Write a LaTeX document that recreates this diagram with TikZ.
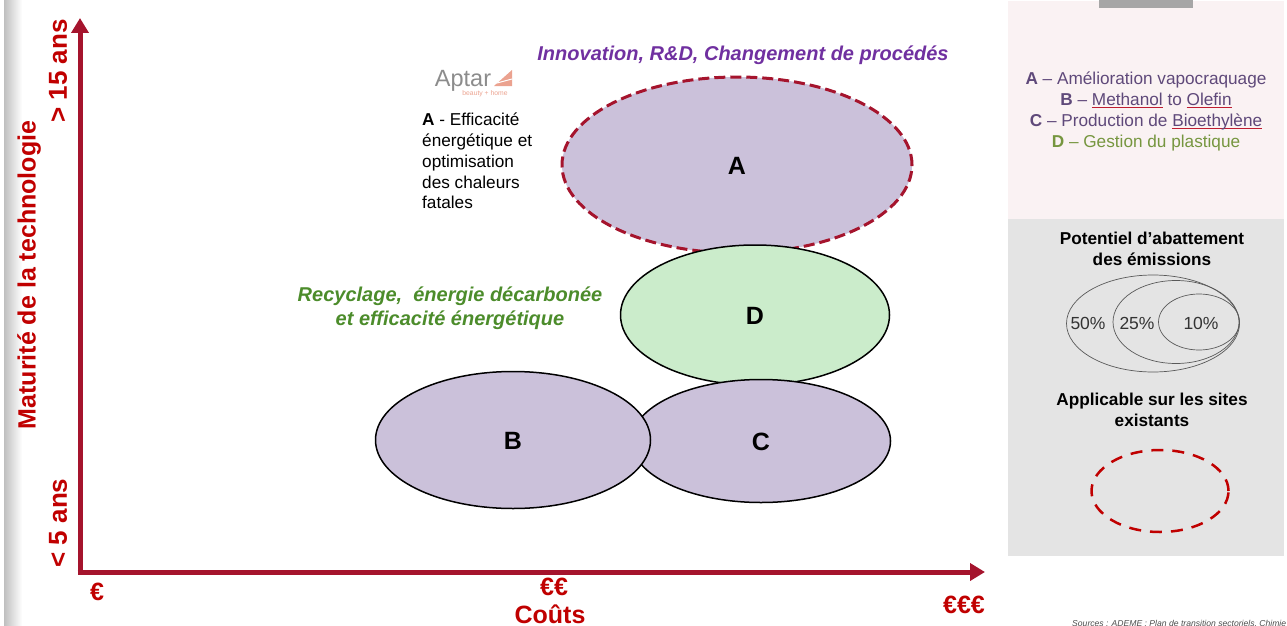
\documentclass[tikz,border=0pt]{standalone}
\usepackage{fontspec}
\setmainfont{Liberation Sans}
\usepackage{tikz}
\usetikzlibrary{arrows.meta,shapes,backgrounds}
\definecolor{axisred}{HTML}{A5142D}
\definecolor{labelred}{HTML}{C00000}
\definecolor{lilac}{HTML}{CBC1DA}
\definecolor{mint}{HTML}{CBECCB}
\definecolor{violet}{HTML}{7030A0}
\definecolor{leaf}{HTML}{4C8C2B}
\definecolor{slate}{HTML}{5F497A}
\definecolor{moss}{HTML}{76963F}
\definecolor{blush}{HTML}{FAF2F3}
\definecolor{panel}{HTML}{E4E4E4}
\definecolor{salmon}{HTML}{EBA28F}
\newcommand{\fs}[1]{\fontsize{#1}{#1}\selectfont}
\newsavebox{\sqbox}
\newcommand{\squiggle}[1]{\sbox{\sqbox}{#1}\rlap{\textcolor{red!60!slate}{\rule[-2.4pt]{\wd\sqbox}{.7pt}}}\usebox{\sqbox}}
\tikzset{
	bubble/.style = {ellipse, draw=black, line width=1.5pt, inner sep=0pt},
	letter/.style = {font=\fs{25}\bfseries},
	axislabel/.style = {text=labelred, font=\fs{25}\bfseries},
	legendtext/.style = {align=center, font=\fs{17.2}, inner sep=0pt},
	blackhead/.style = {align=center, font=\fs{17.2}\bfseries, inner sep=0pt},
	ring/.style = {ellipse, draw=black!65, line width=.7pt, inner sep=0pt},
	pct/.style = {text=black!80, font=\fs{17.5}, inner sep=0pt}
}
\begin{document}
\begin{tikzpicture}[x=1pt, y=-1pt]
	\useasboundingbox (0,0) rectangle (1287,626);
	% left edge shadow
	\shade [left color=black!25, right color=white] (4,0) rectangle (22,626);
	% legend panels
	\fill [blush] (1008,1) rectangle (1284,219);
	\fill [panel] (1008,219) rectangle (1284,556);
	\fill [black!35] (1099,0) rectangle (1193,8);
	% axes
	\coordinate (origin) at (80,572);
	\coordinate (ytop)   at (80,18);
	\coordinate (xend)   at (985,572);
	\draw [axisred, line width=5pt, -{Triangle[length=15pt,width=17pt]}] ([yshift=-2.5pt]origin) -- (ytop);
	\draw [axisred, line width=5pt, -{Triangle[length=15pt,width=17pt]}] ([xshift=-2.5pt]origin) -- (xend);
	% bubbles
	\node (bubbleA) at (737,165) [bubble, fill=lilac, draw=axisred, dash pattern=on 11pt off 5pt, line width=3pt, minimum width=350pt, minimum height=176pt] {};
	\node (bubbleD) at (755,315) [bubble, fill=mint, minimum width=269pt, minimum height=140pt] {};
	\node (bubbleC) at (761,441) [bubble, fill=lilac, minimum width=259pt, minimum height=123pt] {};
	\node (bubbleB) at (513,440) [bubble, fill=lilac, minimum width=275pt, minimum height=137pt] {};
	\node [letter] at (737,166) {A};
	\node [letter] at (755,316) {D};
	\node [letter] at (761,442) {C};
	\node [letter] at (513,441) {B};
	% captions
	\node (innov) at (743,55) [text=violet, font=\fs{20}\bfseries\itshape] {Innovation, R\&D, Changement de procédés};
	\node (recy) at (450,308) [text=leaf, align=center, font=\fs{20}\bfseries\itshape] {Recyclage,~ énergie décarbonée\\[4pt]et efficacité énergétique};
	% logo
	\node (aptar) at (463,81) [text=black!45, font=\fs{23.5}] {Aptar};
	\fill [salmon] (494,86) -- (512,70) -- (512,86) -- cycle;
	\draw [white, line width=1pt] (497,83) -- (512,79);
	\node (beauty) at (485,94) [text=salmon, font=\fs{6.8}] {beauty + home};
	\node (effic) at (422,161) [anchor=west, align=left, font=\fs{17.2}, inner sep=0pt] {\textbf{A} - Efficacité\\[3.6pt]énergétique et\\[3.6pt]optimisation\\[3.6pt]des chaleurs\\[3.6pt]fatales};
	% axis labels
	\node (ymat) at (29,275) [rotate=90, axislabel] {Maturité de la technologie};
	\node (ylong) at (58,71) [rotate=90, axislabel, font=\fs{26}\bfseries] {> 15 ans};
	\node (yshort) at (58,523) [rotate=90, axislabel, font=\fs{26}\bfseries] {< 5 ans};
	\node (eur1) at (97,592) [axislabel] {€};
	\node (eur2) at (554,587) [axislabel] {€€};
	\node (eur3) at (964,605) [axislabel] {€€€};
	\node (couts) at (550,614) [axislabel] {Coûts};
	% legend
	\node (legend) at (1146,111.5) [legendtext, text=slate] {\textbf{A} – Amélioration vapocraquage\\[3.5pt]\textbf{B} – \squiggle{Methanol} to \squiggle{Olefin}\\[3.5pt]\textbf{C} – Production de \squiggle{Bioethylène}\\[3.5pt]\textcolor{moss}{\textbf{D} – Gestion du plastique}};
	\node (potent) at (1152,249) [blackhead] {Potentiel d’abattement\\[3.8pt]des émissions};
	\node (ring50) at (1153,323.5) [ring, minimum width=173pt, minimum height=97pt] {};
	\node (ring25) at (1176,322) [ring, minimum width=126pt, minimum height=83pt] {};
	\node (ring10) at (1199,322) [ring, minimum width=81pt, minimum height=56pt] {};
	\node [pct] at (1088,323) {50\%};
	\node [pct] at (1137,323) {25\%};
	\node [pct] at (1201,323) {10\%};
	\node (applic) at (1152,410) [blackhead] {Applicable sur les sites\\[3.8pt]existants};
	\node (site) at (1160,491) [ellipse, draw=labelred, dash pattern=on 12pt off 9pt, line width=2.5pt, inner sep=0pt, minimum width=137pt, minimum height=82pt] {};
	\node (source) at (1072,624) [anchor=west, text=black!70, font=\fs{8.6}\itshape, inner sep=0pt] {Sources : ADEME : Plan de transition sectoriels, Chimie};
\end{tikzpicture}
\end{document}
